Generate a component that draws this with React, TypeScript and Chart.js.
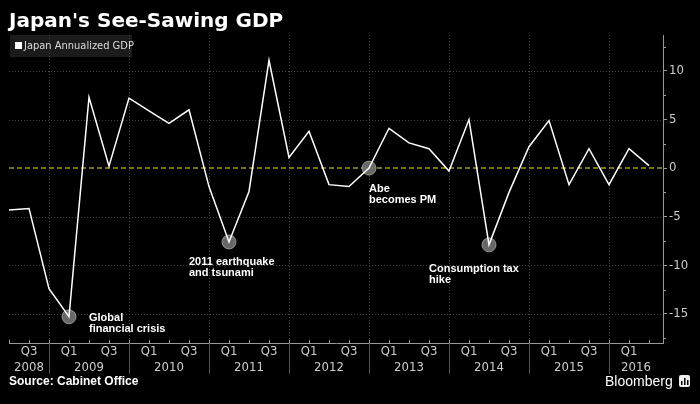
import { useEffect, useRef } from "react";
import { Chart, registerables } from "chart.js";

Chart.register(...registerables);

// ---- data ----
const quarters = [
  "2008 Q2", "2008 Q3", "2008 Q4",
  "2009 Q1", "2009 Q2", "2009 Q3", "2009 Q4",
  "2010 Q1", "2010 Q2", "2010 Q3", "2010 Q4",
  "2011 Q1", "2011 Q2", "2011 Q3", "2011 Q4",
  "2012 Q1", "2012 Q2", "2012 Q3", "2012 Q4",
  "2013 Q1", "2013 Q2", "2013 Q3", "2013 Q4",
  "2014 Q1", "2014 Q2", "2014 Q3", "2014 Q4",
  "2015 Q1", "2015 Q2", "2015 Q3", "2015 Q4",
  "2016 Q1", "2016 Q2",
];
const gdp = [
  -4.3, -4.15, -12.4,
  -15.3, 7.3, 0.2, 7.2,
  5.9, 4.6, 6.0, -1.9,
  -7.6, -2.4, 11.1, 1.1,
  3.8, -1.7, -1.9, 0.0,
  4.1, 2.6, 2.0, -0.3,
  5.0, -7.9, -2.5, 2.2,
  4.9, -1.7, 2.0, -1.7,
  2.0, 0.25,
];
const quarterTickLabels = ["Q1", "Q3"];
const yearLabels = ["2008", "2009", "2010", "2011", "2012", "2013", "2014", "2015", "2016"];
const yTicks = [-15, -10, -5, 0, 5, 10];
const seriesName = "Japan Annualized GDP";
const annotations = [
  { at: "2009 Q1", lines: ["Global", "financial crisis"] },
  { at: "2011 Q1", lines: ["2011 earthquake", "and tsunami"] },
  { at: "2012 Q4", lines: ["Abe", "becomes PM"] },
  { at: "2014 Q2", lines: ["Consumption tax", "hike"] },
];

// ---- layout / style ----
const X_MAX = 32.7;
const Y_MIN = -18;
const Y_MAX = 13.7;
const labelOffsets = [
  { dx: 20, dy: 1 },
  { dx: -40, dy: 20 },
  { dx: 0, dy: 21 },
  { dx: -60, dy: 24 },
];
const narrow = '"Liberation Sans Narrow", "DejaVu Sans Condensed", "Roboto Condensed", sans-serif';
const boldFont = '"Liberation Sans", Arial, sans-serif';

const yearBoundaries = quarters
  .map((q, i) => (q.endsWith("Q4") ? i : -1))
  .filter((i) => i >= 0);

const decor = {
  id: "decor",
  beforeDatasetsDraw(chart: any) {
    const { ctx, chartArea: a, scales } = chart;
    const x = scales.x;
    const y = scales.y;
    ctx.save();
    // legend background
    ctx.fillStyle = "#1b1b1b";
    ctx.fillRect(a.left + 1, a.top, 122, 22);
    // grid
    ctx.strokeStyle = "#444";
    ctx.lineWidth = 1;
    ctx.setLineDash([1, 2]);
    yTicks.forEach((v) => {
      if (v === 0) return;
      const py = Math.round(y.getPixelForValue(v)) + 0.5;
      ctx.beginPath();
      ctx.moveTo(a.left, py);
      ctx.lineTo(a.right, py);
      ctx.stroke();
    });
    yearBoundaries.forEach((i) => {
      const px = Math.round(x.getPixelForValue(i)) + 0.5;
      ctx.beginPath();
      ctx.moveTo(px, a.top);
      ctx.lineTo(px, a.bottom);
      ctx.stroke();
    });
    // zero line
    ctx.strokeStyle = "#a09c1c";
    ctx.lineWidth = 1.5;
    ctx.setLineDash([5, 3]);
    const zy = y.getPixelForValue(0);
    ctx.beginPath();
    ctx.moveTo(a.left, zy);
    ctx.lineTo(a.right, zy);
    ctx.stroke();
    ctx.setLineDash([]);
    // annotation circles
    annotations.forEach((an) => {
      const i = quarters.indexOf(an.at);
      const px = x.getPixelForValue(i);
      const py = y.getPixelForValue(gdp[i]);
      ctx.beginPath();
      ctx.arc(px, py, 7, 0, Math.PI * 2);
      ctx.fillStyle = "rgba(115,115,115,0.9)";
      ctx.fill();
      ctx.lineWidth = 1;
      ctx.strokeStyle = "rgba(170,170,170,0.8)";
      ctx.stroke();
    });
    ctx.restore();
  },
  afterDraw(chart: any) {
    const { ctx, chartArea: a, scales } = chart;
    const x = scales.x;
    const y = scales.y;
    ctx.save();
    // y minor ticks
    ctx.strokeStyle = "#999";
    ctx.lineWidth = 1;
    yTicks.forEach((v) => {
      [v - 2.5, v + 2.5].forEach((m) => {
        if (m < Y_MIN || m > Y_MAX) return;
        const py = Math.round(y.getPixelForValue(m)) + 0.5;
        ctx.beginPath();
        ctx.moveTo(a.right, py);
        ctx.lineTo(a.right + 3, py);
        ctx.stroke();
      });
    });
    // x quarter ticks
    quarters.forEach((_, i) => {
      const px = Math.round(x.getPixelForValue(i)) + 0.5;
      ctx.beginPath();
      ctx.moveTo(px, a.bottom);
      ctx.lineTo(px, a.bottom - 3);
      ctx.stroke();
    });
    // year separators
    ctx.strokeStyle = "#555";
    yearBoundaries.forEach((i) => {
      const px = Math.round(x.getPixelForValue(i)) + 0.5;
      ctx.beginPath();
      ctx.moveTo(px, a.bottom);
      ctx.lineTo(px, a.bottom + 31);
      ctx.stroke();
    });
    // quarter labels
    ctx.fillStyle = "#ccc";
    ctx.font = `13px ${narrow}`;
    ctx.textAlign = "center";
    ctx.textBaseline = "middle";
    quarters.forEach((q, i) => {
      const lab = q.split(" ")[1];
      if (!quarterTickLabels.includes(lab)) return;
      ctx.fillText(lab, x.getPixelForValue(i), a.bottom + 9);
    });
    // year labels, centred on the visible part of each year
    yearLabels.forEach((yr) => {
      const prev = quarters.indexOf(`${Number(yr) - 1} Q4`);
      const cur = quarters.indexOf(`${yr} Q4`);
      const s = prev >= 0 ? prev : x.min;
      const e = cur >= 0 ? cur : x.max;
      ctx.fillText(yr, x.getPixelForValue((s + e) / 2), a.bottom + 25);
    });
    // legend
    ctx.fillStyle = "#fff";
    ctx.fillRect(a.left + 6, a.top + 7, 7, 7);
    ctx.fillStyle = "#ddd";
    ctx.textAlign = "left";
    ctx.font = `11px ${narrow}`;
    ctx.fillText(seriesName, a.left + 15, a.top + 11);
    // annotation labels
    ctx.fillStyle = "#fff";
    ctx.font = `bold 11px ${boldFont}`;
    annotations.forEach((an, k) => {
      const i = quarters.indexOf(an.at);
      const px = x.getPixelForValue(i);
      const py = y.getPixelForValue(gdp[i]);
      const o = labelOffsets[k];
      an.lines.forEach((ln, j) => {
        ctx.fillText(ln, px + o.dx, py + o.dy + j * 11);
      });
    });
    // bloomberg icon
    ctx.fillStyle = "#eee";
    ctx.beginPath();
    (ctx as any).roundRect ? (ctx as any).roundRect(679, 375, 11, 12, 2) : ctx.rect(679, 375, 11, 12);
    ctx.fill();
    ctx.fillStyle = "#000";
    ctx.fillRect(681, 381, 1.5, 4);
    ctx.fillRect(684, 378, 1.5, 7);
    ctx.fillRect(687, 380, 1.5, 5);
    ctx.restore();
  },
};

export default function App() {
  const ref = useRef<HTMLCanvasElement | null>(null);
  useEffect(() => {
    document.body.style.margin = "0";
    document.body.style.background = "#000";
    const canvas = ref.current;
    if (!canvas) return;
    const chart = new Chart(canvas, {
      type: "line",
      data: {
        datasets: [
          {
            label: seriesName,
            data: gdp.map((v, i) => ({ x: i, y: v })),
            borderColor: "#fff",
            borderWidth: 1.5,
            pointRadius: 0,
            tension: 0,
          },
        ],
      },
      options: {
        animation: false,
        responsive: false,
        devicePixelRatio: 1,
        layout: { padding: { left: 9, top: 35, right: 0, bottom: 0 } },
        plugins: {
          legend: { display: false },
          tooltip: { enabled: false },
          title: { display: false },
        },
        scales: {
          x: {
            type: "linear",
            min: 0,
            max: X_MAX,
            ticks: { display: false },
            grid: { display: false },
            border: { display: true, color: "#999" },
            afterFit: (s: any) => {
              s.height = 61;
            },
          },
          y: {
            position: "right",
            min: Y_MIN,
            max: Y_MAX,
            afterBuildTicks: (s: any) => {
              s.ticks = yTicks.map((v) => ({ value: v }));
            },
            ticks: {
              color: "#ccc",
              font: { family: narrow, size: 13 },
              padding: 2,
              callback: (v: any) => String(v),
            },
            grid: { drawOnChartArea: false, drawTicks: true, tickLength: 4, tickColor: "#999" },
            border: { display: true, color: "#999" },
            afterFit: (s: any) => {
              s.width = 37;
            },
          },
        },
      } as any,
      plugins: [decor],
    });
    return () => chart.destroy();
  }, []);

  return (
    <div style={{ position: "absolute", left: 0, top: 0, width: 700, height: 404, background: "#000", overflow: "hidden" }}>
      <canvas ref={ref} width={700} height={404} style={{ position: "absolute", left: 0, top: 0, width: 700, height: 404 }} />
      <div style={{ position: "absolute", left: 9, top: 10, font: 'bold 20px "DejaVu Sans", sans-serif', lineHeight: "20px", color: "#fff", whiteSpace: "nowrap" }}>
        Japan's See-Sawing GDP
      </div>
      <div style={{ position: "absolute", left: 9, top: 374, font: `bold 12px ${boldFont}`, lineHeight: "14px", color: "#fff", whiteSpace: "nowrap" }}>
        Source:  Cabinet Office
      </div>
      <div style={{ position: "absolute", left: 605, top: 373, font: '14px "Liberation Sans", Arial, sans-serif', lineHeight: "16px", color: "#fff", whiteSpace: "nowrap" }}>
        Bloomberg
      </div>
    </div>
  );
}
